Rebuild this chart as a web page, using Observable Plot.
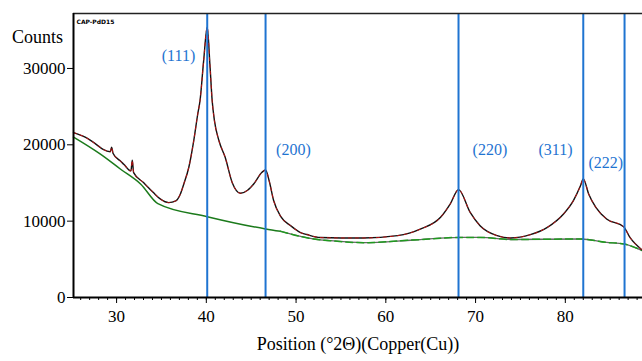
<!DOCTYPE html>
<html><head><meta charset="utf-8">
<script src="https://cdn.jsdelivr.net/npm/d3@7"></script>
<script src="https://cdn.jsdelivr.net/npm/@observablehq/plot@0.6"></script>
<style>body{margin:0;background:#fff}</style>
</head><body><div id="chart"></div>
<script>
const theta = [25.2,26.5,27.8,28.5,29.3,29.45,29.6,30.4,30.8,31.6,31.75,31.9,33.0,34.1,34.9,35.8,36.6,37.1,37.5,38.05,38.6,39.05,39.3,39.7,40.1,40.4,40.65,40.9,41.4,42.1,42.9,43.8,44.6,45.3,46.2,46.6,47.0,47.5,48.3,49.4,50.5,51.2,52.7,55.0,57.5,61.3,63.9,66.1,67.2,68.1,69.4,70.5,72.4,73.9,76.1,78.0,79.8,80.9,81.7,82.0,82.6,83.4,84.6,86.5,87.2,88.6];
const counts = [21600,21000,20000,19400,19100,19700,18900,17900,17460,16580,17980,16360,15050,13740,12880,12430,12660,13530,14900,17060,20560,24070,25800,31000,35400,30500,25800,23200,20560,18370,15000,13650,14050,14900,16400,16700,15300,12700,10600,9400,8500,8250,7850,7800,7800,8100,8980,10500,12300,14130,11150,9400,8100,7800,8230,9190,10940,12690,14660,15540,13570,11810,10290,9280,7870,6200];
const bgTheta = [25.2,28.2,30.45,32.7,34.6,40.1,46.6,48.3,52.0,53.8,57.5,63.1,68.3,70.5,73.9,81.7,84.6,86.5,88.6];
const bgCounts = [21000,18770,16800,14840,12300,10590,8980,8660,7660,7440,7180,7530,7870,7870,7600,7660,7220,7010,6130];
const peakPos = [40.1,46.6,68.1,82.0,86.6];
const peakLabels = ["(111)","(200)","(220)","(311)","(222)"];
const labelX = [36.9,49.7,71.6,78.9,84.5];
const labelY = [31700,19300,19300,19300,17600];
const xTicks = [30,40,50,60,70,80];
const yTicks = [0,10000,20000,30000];

const data = theta.map((t,i)=>({t, c:counts[i]}));
const bg = bgTheta.map((t,i)=>({t, c:bgCounts[i]}));
const peaks = peakPos.map((p,i)=>({p, label:peakLabels[i], lx:labelX[i], ly:labelY[i]}));
const xMin = 25.2, xMax = 88.6, yMax = 37200;
const blue = "#1f74d1";

const chart = Plot.plot({
  width: 642, height: 361,
  marginLeft: 73, marginRight: 0, marginTop: 13, marginBottom: 64,
  style: {fontFamily: "'Liberation Serif', 'Times New Roman', serif", fontSize: "17px", color: "#000", background: "#fff", overflow: "visible"},
  x: {domain: [xMin, xMax]},
  y: {domain: [0, yMax]},
  marks: [
    Plot.line(bg, {filter: d => d.t <= 48.3, x:"t", y:"c", curve:"monotone-x", stroke:"#1b7a1b", strokeWidth:1.5}),
    Plot.line(bg, {filter: d => d.t >= 48.3, x:"t", y:"c", curve:"monotone-x", stroke:"#666", strokeWidth:1.3}),
    Plot.line(bg, {filter: d => d.t >= 48.3, x:"t", y:"c", curve:"monotone-x", stroke:"#1f9a1f", strokeWidth:1.5, strokeDasharray:"7,4"}),
    Plot.line(data, {x:"t", y:"c", curve:"monotone-x", stroke:"#111", strokeWidth:1.4}),
    Plot.line(data, {x:"t", y:"c", curve:"monotone-x", stroke:"#e01010", strokeWidth:0.8, strokeDasharray:"3,4"}),
    Plot.ruleX(peaks, {x:"p", stroke: blue, strokeWidth:2}),
    Plot.text(peaks, {x:"lx", y:"ly", text:"label", fill: blue, fontSize:16}),
    Plot.ruleY([yMax], {stroke:"#222", strokeWidth:1.5}),
    Plot.ruleY([0], {stroke:"#000", strokeWidth:2}),
    Plot.ruleX([xMin], {stroke:"#000", strokeWidth:2}),
    Plot.axisX({ticks: d3.range(26,89), tickSize:3, tickFormat: () => "", stroke:"#000"}),
    Plot.axisX({ticks: xTicks, tickSize:6, tickPadding:6, fontSize:17, label:null, stroke:"#000"}),
    Plot.axisY({ticks: yTicks, tickSize:6, tickPadding:2, fontSize:17, label:null, tickFormat: d => String(d), stroke:"#000"}),
    Plot.text(["Counts"], {frameAnchor:"top-left", dx:-36, dy:17, fontSize:18, textAnchor:"middle"}),
    Plot.text(["CAP-PdD15"], {frameAnchor:"top-left", dx:3, dy:6, fontSize:6, fontWeight:"bold", fontFamily:"'DejaVu Sans', sans-serif", textAnchor:"start"}),
    Plot.text(["Position (°2Θ)(Copper(Cu))"], {frameAnchor:"bottom", dy:52, fontSize:18})
  ]
});
document.getElementById("chart").appendChild(chart);
</script>
</body></html>
